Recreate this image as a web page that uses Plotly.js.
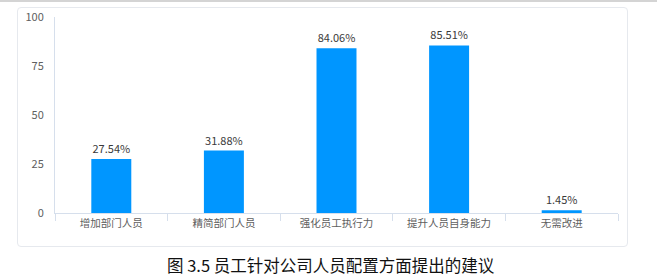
<!DOCTYPE html>
<html><head><meta charset="utf-8">
<script src="https://cdn.plot.ly/plotly-3.0.1.min.js"></script>
<style>
html,body{margin:0;padding:0;background:#fff;}
#wrap{position:relative;width:657px;height:278px;overflow:hidden;}
#topline{position:absolute;left:0;top:0;width:657px;height:2px;background:#d4d4d4;}
#card{position:absolute;left:17px;top:7px;width:609px;height:238px;border:1px solid #e6e9ee;border-radius:4px;}
#chart{position:absolute;left:0;top:0;width:657px;height:278px;}
</style></head>
<body><div id="wrap"><div id="topline"></div><div id="card"></div><div id="chart"></div></div>
<script>
const categories = ['增加部门人员','精简部门人员','强化员工执行力','提升人员自身能力','无需改进'];
const values = [27.54, 31.88, 84.06, 85.51, 1.45];
const yTicks = [0, 25, 50, 75, 100];
const caption = '图 3.5 员工针对公司人员配置方面提出的建议';

const font = '"Noto Sans CJK SC", "Noto Sans", sans-serif';
const axisColor = '#d6dfec';

Plotly.newPlot('chart', [{
  type: 'bar',
  x: categories,
  y: values,
  width: 0.355,
  marker: {color: '#0096ff'},
  texttemplate: '%{y:.2f}%',
  textposition: 'outside',
  cliponaxis: false,
  textfont: {family: font, size: 11, color: '#3a3a3a'},
  hoverinfo: 'none'
}], {
  width: 657, height: 278,
  margin: {l: 55, r: 39, t: 17, b: 65},
  paper_bgcolor: 'rgba(0,0,0,0)',
  plot_bgcolor: 'rgba(0,0,0,0)',
  showlegend: false,
  xaxis: {
    showline: true, linecolor: axisColor, linewidth: 1,
    ticks: 'outside', tickson: 'boundaries', ticklen: 7, tickcolor: axisColor,
    showgrid: false, zeroline: false,
    tickfont: {family: font, size: 10.5, color: '#606060'}
  },
  yaxis: {
    range: [0, 100], tickvals: yTicks, ticktext: yTicks.map(String),
    showline: true, linecolor: axisColor, linewidth: 1,
    showgrid: false, zeroline: false, ticks: '',
    ticklabelstandoff: 8,
    tickfont: {family: font, size: 11, color: '#606060'}
  },
  annotations: [{
    xref: 'paper', yref: 'paper', x: (331-55)/563, y: (213-265)/196,
    xanchor: 'center', yanchor: 'middle', showarrow: false,
    text: caption, font: {family: font, size: 16.5, color: '#111111'}
  }]
}, {staticPlot: true});
</script></body></html>
